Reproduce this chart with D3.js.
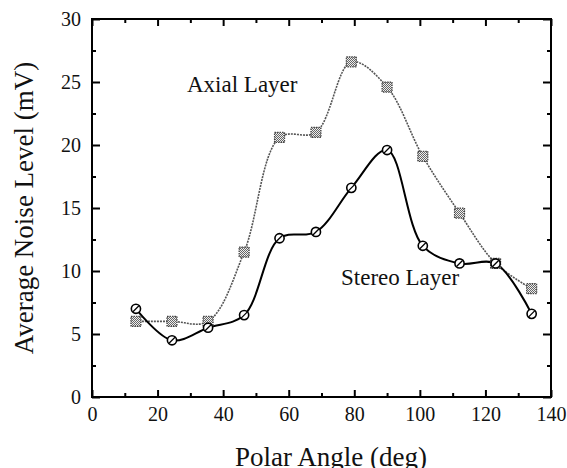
<!DOCTYPE html>
<html>
<head>
<meta charset="utf-8">
<script src="https://cdn.jsdelivr.net/npm/d3@7"></script>
<style>
  body { margin: 0; background: #fff; }
  svg text { font-family: "Liberation Serif", "DejaVu Serif", serif; fill: #111; }
</style>
</head>
<body>
<div id="graph"></div>
<script>
    // polar angle (deg) of each measurement
    const angle = [13.4, 24.4, 35.4, 46.4, 57.2, 68.3, 79.1, 90.0, 100.9, 112.1, 123.1, 134.1];
    // average noise level (mV)
    const axial = [6.0, 6.0, 6.0, 11.5, 20.6, 21.0, 26.6, 24.6, 19.1, 14.6, 10.6, 8.6];
    const stereo = [7.0, 4.5, 5.5, 6.5, 12.6, 13.1, 16.6, 19.6, 12.0, 10.6, 10.6, 6.6];

    const xMajor = [0, 20, 40, 60, 80, 100, 120, 140];
    const xMinor = [10, 30, 50, 70, 90, 110, 130];
    const yMajor = [0, 5, 10, 15, 20, 25, 30];
    const yMinor = [2.5, 7.5, 12.5, 17.5, 22.5, 27.5];

    const w = 567;
    const h = 468;
    const margin = { top: 19, right: 16, bottom: 71, left: 92 };

    const svg = d3.select('#graph')
        .append('svg')
        .attr('width', w)
        .attr('height', h);

    // checker fill for the square markers
    const pat = svg.append('defs').append('pattern')
        .attr('id', 'checker')
        .attr('width', 2).attr('height', 2)
        .attr('patternUnits', 'userSpaceOnUse');
    pat.append('rect').attr('width', 2).attr('height', 2).attr('fill', '#eee');
    pat.append('rect').attr('width', 1).attr('height', 1).attr('fill', '#666');
    pat.append('rect').attr('x', 1).attr('y', 1).attr('width', 1).attr('height', 1).attr('fill', '#666');

    const xScale = d3.scaleLinear()
        .domain([0, 140])
        .range([margin.left, w - margin.right]);

    const yScale = d3.scaleLinear()
        .domain([0, 30])
        .range([h - margin.bottom, margin.top]);

    const x0 = xScale.range()[0], x1 = xScale.range()[1];
    const y0 = yScale.range()[0], y1 = yScale.range()[1];

    // inward ticks on all four sides
    function ticks(axis, vals, size, labels) {
        return axis.tickValues(vals).tickSize(-size).tickSizeOuter(0)
            .tickFormat(labels ? d3.format('d') : '');
    }

    function addAxis(axis, transform) {
        const g = svg.append('g').attr('transform', transform).call(axis);
        g.select('.domain').remove();
        g.selectAll('line').attr('stroke', '#000').attr('stroke-width', 2);
        g.selectAll('text').style('font-size', '20px').style('font-family', '"Liberation Serif", serif');
        return g;
    }

    addAxis(ticks(d3.axisBottom(xScale), xMajor, 7, true), 'translate(0,' + y0 + ')')
        .selectAll('text').attr('y', 10).attr('dy', '0.71em');
    addAxis(ticks(d3.axisBottom(xScale), xMinor, 4, false), 'translate(0,' + y0 + ')');
    addAxis(ticks(d3.axisTop(xScale), xMajor, 7, false), 'translate(0,' + y1 + ')');
    addAxis(ticks(d3.axisTop(xScale), xMinor, 4, false), 'translate(0,' + y1 + ')');

    addAxis(ticks(d3.axisLeft(yScale), yMajor, 8, true), 'translate(' + x0 + ',0)')
        .selectAll('text').attr('x', -11);
    addAxis(ticks(d3.axisLeft(yScale), yMinor, 4, false), 'translate(' + x0 + ',0)');
    addAxis(ticks(d3.axisRight(yScale), yMajor, 8, false), 'translate(' + x1 + ',0)');
    addAxis(ticks(d3.axisRight(yScale), yMinor, 4, false), 'translate(' + x1 + ',0)');

    svg.append('rect')
        .attr('x', x0).attr('y', y1)
        .attr('width', x1 - x0).attr('height', y0 - y1)
        .attr('fill', 'none')
        .attr('stroke', '#000')
        .attr('stroke-width', 2);

    const line = d3.line()
        .x((d, i) => xScale(angle[i]))
        .y((d) => yScale(d))
        .curve(d3.curveCatmullRom.alpha(0.5));

    svg.append('path')
        .datum(axial)
        .attr('d', line)
        .attr('fill', 'none')
        .attr('stroke', '#555')
        .attr('stroke-width', 1.6)
        .attr('stroke-dasharray', '2,1');

    svg.append('path')
        .datum(stereo)
        .attr('d', line)
        .attr('fill', 'none')
        .attr('stroke', '#000')
        .attr('stroke-width', 2);

    svg.selectAll('.sq')
        .data(axial)
        .enter()
        .append('rect')
        .attr('class', 'sq')
        .attr('x', (d, i) => xScale(angle[i]) - 5)
        .attr('y', (d) => yScale(d) - 5)
        .attr('width', 10)
        .attr('height', 10)
        .attr('fill', 'url(#checker)')
        .attr('stroke', '#444')
        .attr('stroke-width', 1.2)
        .attr('stroke-dasharray', '1.5,1');

    const dots = svg.selectAll('.dot')
        .data(stereo)
        .enter()
        .append('g')
        .attr('class', 'dot')
        .attr('transform', (d, i) => 'translate(' + xScale(angle[i]) + ',' + yScale(d) + ')');

    dots.append('circle')
        .attr('r', 4.6)
        .attr('fill', '#fff')
        .attr('stroke', '#000')
        .attr('stroke-width', 1.6);

    dots.append('line')
        .attr('x1', -3).attr('y1', 3)
        .attr('x2', 3).attr('y2', -3)
        .attr('stroke', '#000')
        .attr('stroke-width', 1.3);

    svg.append('text')
        .attr('x', 187)
        .attr('y', 92)
        .style('font-size', '23px')
        .text('Axial Layer');

    svg.append('text')
        .attr('x', 341)
        .attr('y', 285)
        .style('font-size', '23px')
        .text('Stereo Layer');

    svg.append('text')
        .attr('x', 331)
        .attr('y', 466)
        .attr('text-anchor', 'middle')
        .style('font-size', '27px')
        .text('Polar Angle (deg)');

    svg.append('text')
        .attr('transform', 'translate(33,208) rotate(-90)')
        .attr('text-anchor', 'middle')
        .style('font-size', '27px')
        .text('Average Noise Level (mV)');
</script>
</body>
</html>
